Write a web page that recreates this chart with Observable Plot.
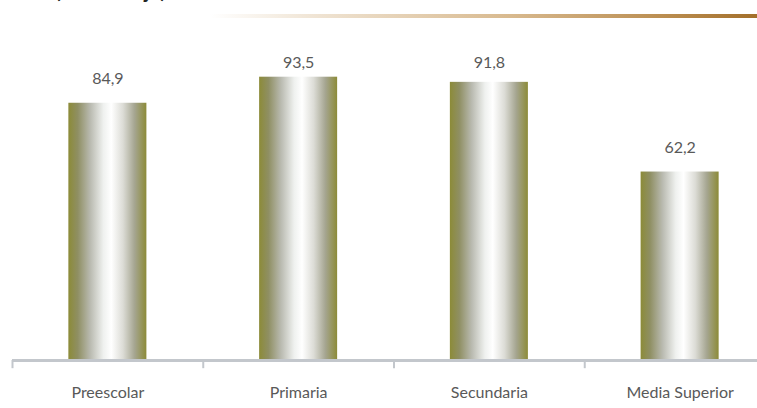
<!DOCTYPE html>
<html>
<head>
<meta charset="utf-8">
<script src="https://cdn.jsdelivr.net/npm/d3@7"></script>
<script src="https://cdn.jsdelivr.net/npm/@observablehq/plot@0.6"></script>
<style>
  html, body { margin: 0; padding: 0; background: #fff; overflow: hidden; width: 757px; height: 408px; }
  #wrap { position: relative; width: 757px; height: 408px; }
  #title { position: absolute; left: 55px; top: -21px; font-family: Lato, sans-serif; font-weight: bold; font-size: 21px; line-height: 21px; color: #222; white-space: nowrap; }
  #rule { position: absolute; left: 210px; top: 14px; width: 547px; height: 4px;
          background: linear-gradient(to right, #ffffff 0%, #efe3d2 20%, #d8b98e 55%, #b88a4c 85%, #a36f2a 100%); }
  #chart { position: absolute; left: 0; top: 0; }
  svg { overflow: visible; }
</style>
</head>
<body>
<div id="wrap">
  <div id="chart"></div>
  <div id="title">(Porcentaje)</div>
  <div id="rule"></div>
</div>
<script>
const categories = ["Preescolar", "Primaria", "Secundaria", "Media Superior"];
const values = [84.9, 93.5, 91.8, 62.2];
const valueLabels = ["84,9", "93,5", "91,8", "62,2"];

const data = categories.map((c, i) => ({cat: c, value: values[i], label: valueLabels[i]}));

const step = (775 - 12) / categories.length;

const defs = () => {
  const d = d3.create("svg:defs");
  const g = d.append("linearGradient").attr("id", "barGrad").attr("x1", "0").attr("x2", "1").attr("y1", "0").attr("y2", "0");
  [["0%", "#8c8b38"], ["12%", "#8f8f63"], ["28%", "#b9bab0"], ["45%", "#eff1ef"], ["55%", "#ffffff"], ["70%", "#dcdcd6"], ["85%", "#a5a590"], ["100%", "#8c8b38"]]
    .forEach(([o, c]) => g.append("stop").attr("offset", o).attr("stop-color", c));
  return d.node();
};

const chart = Plot.plot({
  width: 757,
  height: 408,
  marginLeft: 12,
  marginRight: 0,
  marginTop: 0,
  marginBottom: 0,
  style: {fontFamily: "Lato, sans-serif", background: "transparent"},
  x: {domain: categories, range: [12, 775], paddingInner: 0.591, paddingOuter: 0.2955, round: false, axis: null},
  y: {domain: [0, 100], range: [360, 57], axis: null},
  marks: [
    defs,
    Plot.barY(data, {x: "cat", y: "value", fill: "url(#barGrad)"}),
    Plot.ruleY([0], {stroke: "#c3c7cc", strokeWidth: 3}),
    Plot.ruleX(categories, {x: d => d, y1: 0, y2: -2.7, dx: -step / 2, stroke: "#c3c7cc", strokeWidth: 2}),
    Plot.text(data, {x: "cat", y: d => Math.min(d.value, 90.4), text: "label", dy: -24, fontSize: 16, fill: "#595959"}),
    Plot.text(data, {x: "cat", y: 0, text: "cat", dy: 32, fontSize: 16, fill: "#595959"})
  ]
});
document.getElementById("chart").appendChild(chart);
</script>
</body>
</html>
